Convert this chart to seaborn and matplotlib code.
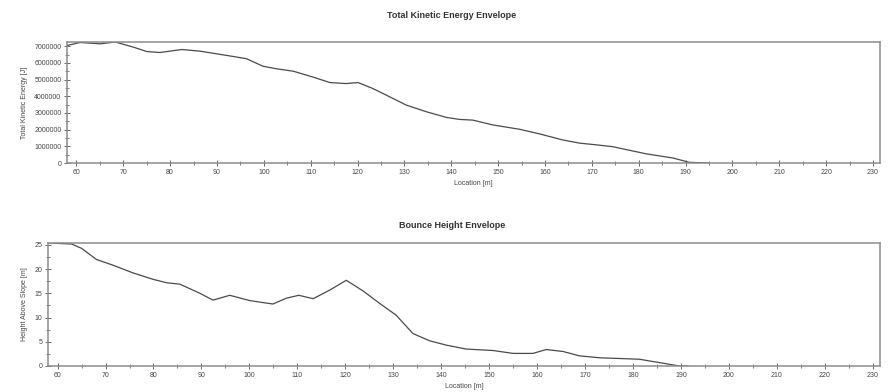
import matplotlib
matplotlib.use("Agg")
import matplotlib.pyplot as plt
from matplotlib.ticker import MultipleLocator, FixedLocator
import seaborn as sns
import pandas as pd

# Kinetic energy envelope along the slope
energy_loc = [58.0, 60.8, 65.1, 68.3, 72.2, 75.0, 77.8, 82.5, 86.4, 92.0, 96.3, 99.8,
              102.6, 106.3, 110.5, 114.1, 117.6, 120.1, 123.3, 126.9, 130.4, 134.7,
              139.0, 141.8, 144.6, 148.9, 154.6, 158.9, 163.8, 167.4, 170.9, 174.4,
              181.6, 187.3, 190.8, 195.0]
energy_j = [7.04e6, 7.22e6, 7.14e6, 7.25e6, 6.94e6, 6.68e6, 6.62e6, 6.80e6, 6.70e6,
            6.45e6, 6.25e6, 5.80e6, 5.65e6, 5.50e6, 5.15e6, 4.82e6, 4.76e6, 4.82e6,
            4.46e6, 3.96e6, 3.47e6, 3.07e6, 2.73e6, 2.61e6, 2.57e6, 2.28e6, 2.02e6,
            1.74e6, 1.38e6, 1.19e6, 1.09e6, 0.98e6, 0.55e6, 0.30e6, 0.04e6, 0.0]

# Bounce height envelope along the slope
height_loc = [58.0, 62.9, 65.0, 68.1, 71.6, 75.8, 79.9, 82.7, 85.5, 89.7, 92.4, 95.9,
              100.1, 104.9, 107.7, 110.3, 113.3, 116.8, 120.2, 123.7, 127.2, 130.6,
              134.1, 137.6, 141.1, 145.2, 150.8, 155.0, 159.1, 161.9, 165.4, 168.8,
              173.0, 181.3, 185.5, 189.7, 191.5]
height_m = [25.4, 25.2, 24.3, 22.0, 20.8, 19.2, 17.9, 17.2, 16.9, 15.0, 13.6, 14.6,
            13.5, 12.8, 14.0, 14.6, 13.9, 15.7, 17.7, 15.5, 12.9, 10.5, 6.7, 5.2,
            4.3, 3.5, 3.2, 2.6, 2.6, 3.4, 3.0, 2.1, 1.7, 1.4, 0.7, 0.0, 0.0]

x_ticks = list(range(60, 231, 10))

energy_df = pd.DataFrame({"Location [m]": energy_loc, "Total Kinetic Energy [J]": energy_j})
height_df = pd.DataFrame({"Location [m]": height_loc, "Height Above Slope [m]": height_m})

sns.set_style("white")
plt.rcParams["font.family"] = ["Liberation Sans", "DejaVu Sans"]

fig = plt.figure(figsize=(8.9, 3.92), dpi=100)
ax1 = fig.add_axes([67 / 890, 1 - 163 / 392, (880 - 67) / 890, (163 - 42) / 392])
ax2 = fig.add_axes([48 / 890, 1 - 366 / 392, (880 - 48) / 890, (366 - 243) / 392])

line_color = "#4a4a4a"
frame_color = "#8c8c8c"

sns.lineplot(data=energy_df, x="Location [m]", y="Total Kinetic Energy [J]",
             ax=ax1, color=line_color, linewidth=0.9)
sns.lineplot(data=height_df, x="Location [m]", y="Height Above Slope [m]",
             ax=ax2, color=line_color, linewidth=0.9)

ax1.set_ylim(0, 7.25e6)
ax1.yaxis.set_major_locator(MultipleLocator(1e6))
ax1.yaxis.set_minor_locator(MultipleLocator(5e5))
ax1.ticklabel_format(axis="y", style="plain", useOffset=False)

ax2.set_ylim(0, 25.4)
ax2.yaxis.set_major_locator(MultipleLocator(5))
ax2.yaxis.set_minor_locator(MultipleLocator(2.5))

for ax in (ax1, ax2):
    ax.set_xlim(58, 231.5)
    ax.xaxis.set_major_locator(FixedLocator(x_ticks))
    ax.xaxis.set_minor_locator(MultipleLocator(5))
    for sp in ax.spines.values():
        sp.set_visible(True)
        sp.set_color(frame_color)
        sp.set_linewidth(1.1)
    ax.tick_params(axis="both", which="major", direction="inout", length=4,
                   width=0.7, color="#666666", labelsize=5, labelcolor="#444444", pad=2)
    ax.tick_params(axis="both", which="minor", direction="inout", length=3,
                   width=0.6, color="#666666")
    ax.tick_params(axis="x", which="both", bottom=True)
    ax.tick_params(axis="y", which="both", left=True)
    ax.xaxis.label.set_size(5)
    ax.yaxis.label.set_size(5)
    ax.xaxis.label.set_color("#444444")
    ax.yaxis.label.set_color("#444444")
    ax.xaxis.labelpad = 3

ax1.yaxis.set_label_coords(-(67 - 28) / (880 - 67), 0.5)
ax2.yaxis.set_label_coords(-(48 - 28) / (880 - 48), 0.5)

fig.text(452 / 890, 1 - 15 / 392, "Total Kinetic Energy Envelope", ha="center", va="center",
         fontsize=6.5, fontweight="bold", color="#333333")
fig.text(452 / 890, 1 - 226 / 392, "Bounce Height Envelope", ha="center", va="center",
         fontsize=6.5, fontweight="bold", color="#333333")

fig.savefig("out.png", dpi=100, facecolor="white")
